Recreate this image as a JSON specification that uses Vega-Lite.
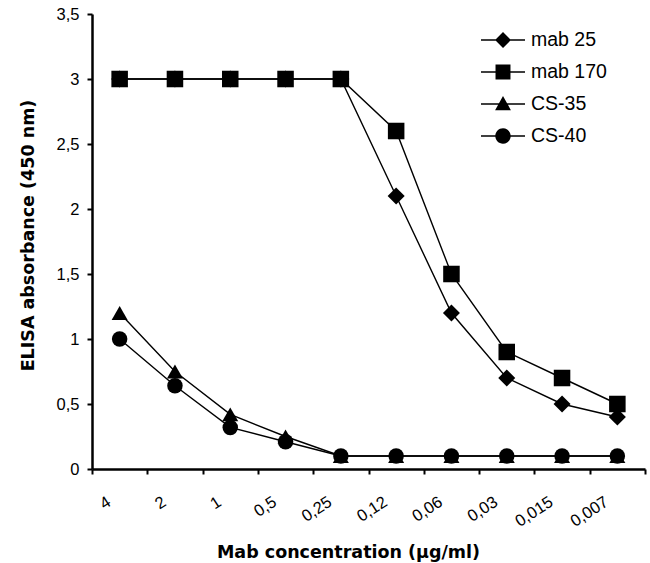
{
  "$schema": "https://vega.github.io/schema/vega-lite/v6.json",
  "width": 553,
  "height": 455,
  "autosize": {"type": "none"},
  "padding": {"left": 92, "top": 14, "right": 5, "bottom": 94},
  "background": "white",
  "config": {
    "view": {"stroke": null},
    "axis": {"grid": false, "domainColor": "black", "tickColor": "black", "labelColor": "black", "titleColor": "black"}
  },
  "data": {
    "values": [
      {"series": "mab 25", "conc": "4", "value": 3},
      {"series": "mab 25", "conc": "2", "value": 3},
      {"series": "mab 25", "conc": "1", "value": 3},
      {"series": "mab 25", "conc": "0,5", "value": 3},
      {"series": "mab 25", "conc": "0,25", "value": 3},
      {"series": "mab 25", "conc": "0,12", "value": 2.1},
      {"series": "mab 25", "conc": "0,06", "value": 1.2},
      {"series": "mab 25", "conc": "0,03", "value": 0.7},
      {"series": "mab 25", "conc": "0,015", "value": 0.5},
      {"series": "mab 25", "conc": "0,007", "value": 0.4},
      {"series": "mab 170", "conc": "4", "value": 3},
      {"series": "mab 170", "conc": "2", "value": 3},
      {"series": "mab 170", "conc": "1", "value": 3},
      {"series": "mab 170", "conc": "0,5", "value": 3},
      {"series": "mab 170", "conc": "0,25", "value": 3},
      {"series": "mab 170", "conc": "0,12", "value": 2.6},
      {"series": "mab 170", "conc": "0,06", "value": 1.5},
      {"series": "mab 170", "conc": "0,03", "value": 0.9},
      {"series": "mab 170", "conc": "0,015", "value": 0.7},
      {"series": "mab 170", "conc": "0,007", "value": 0.5},
      {"series": "CS-35", "conc": "4", "value": 1.2},
      {"series": "CS-35", "conc": "2", "value": 0.75},
      {"series": "CS-35", "conc": "1", "value": 0.42},
      {"series": "CS-35", "conc": "0,5", "value": 0.25},
      {"series": "CS-35", "conc": "0,25", "value": 0.1},
      {"series": "CS-35", "conc": "0,12", "value": 0.1},
      {"series": "CS-35", "conc": "0,06", "value": 0.1},
      {"series": "CS-35", "conc": "0,03", "value": 0.1},
      {"series": "CS-35", "conc": "0,015", "value": 0.1},
      {"series": "CS-35", "conc": "0,007", "value": 0.1},
      {"series": "CS-40", "conc": "4", "value": 1.0},
      {"series": "CS-40", "conc": "2", "value": 0.64},
      {"series": "CS-40", "conc": "1", "value": 0.32},
      {"series": "CS-40", "conc": "0,5", "value": 0.21},
      {"series": "CS-40", "conc": "0,25", "value": 0.1},
      {"series": "CS-40", "conc": "0,12", "value": 0.1},
      {"series": "CS-40", "conc": "0,06", "value": 0.1},
      {"series": "CS-40", "conc": "0,03", "value": 0.1},
      {"series": "CS-40", "conc": "0,015", "value": 0.1},
      {"series": "CS-40", "conc": "0,007", "value": 0.1}
    ]
  },
  "encoding": {
    "x": {
      "field": "conc",
      "type": "ordinal",
      "sort": null,
      "scale": {"paddingInner": 0, "paddingOuter": 0},
      "axis": {
        "title": "Mab concentration (µg/ml)",
        "titleFont": "DejaVu Sans",
        "titleFontWeight": "bold",
        "titleFontSize": 17.5,
        "titleX": 256,
        "titleY": 83,
        "titleBaseline": "middle",
        "titleAlign": "center",
        "labelFont": "Liberation Sans",
        "labelFontSize": 16.5,
        "labelAngle": -33,
        "labelAlign": "right",
        "labelBaseline": "middle",
        "labelOffset": -11,
        "labelPadding": 26,
        "tickBand": "extent",
        "tickSize": 5,
        "tickWidth": 2,
        "domainWidth": 2.5
      }
    },
    "y": {
      "field": "value",
      "type": "quantitative",
      "scale": {"domain": [0, 3.5], "nice": false},
      "axis": {
        "title": "ELISA absorbance (450 nm)",
        "titleFont": "DejaVu Sans",
        "titleFontWeight": "bold",
        "titleFontSize": 17.5,
        "titleX": -64,
        "titleY": 221,
        "titleBaseline": "middle",
        "titleAlign": "center",
        "values": [0, 0.5, 1, 1.5, 2, 2.5, 3, 3.5],
        "labelExpr": "replace(toString(datum.value), '.', ',')",
        "labelFont": "Liberation Sans",
        "labelFontSize": 16.5,
        "labelPadding": 8,
        "tickSize": 5,
        "tickWidth": 2,
        "domainWidth": 2.5
      }
    }
  },
  "layer": [
    {
      "mark": {"type": "line", "color": "black", "strokeWidth": 1.4},
      "encoding": {"detail": {"field": "series"}}
    },
    {
      "mark": {"type": "point", "filled": true, "color": "black", "opacity": 1},
      "encoding": {
        "shape": {
          "field": "series",
          "type": "nominal",
          "scale": {"domain": ["mab 25", "mab 170", "CS-35", "CS-40"], "range": ["diamond", "square", "triangle-up", "circle"]},
          "legend": null
        },
        "size": {
          "field": "series",
          "type": "nominal",
          "scale": {"domain": ["mab 25", "mab 170", "CS-35", "CS-40"], "range": [290, 240, 270, 240]},
          "legend": null
        }
      }
    },
    {
      "mark": {"type": "point", "filled": true, "color": "black", "opacity": 0, "size": 1936},
      "encoding": {
        "shape": {
          "field": "series",
          "type": "nominal",
          "scale": {
            "domain": ["mab 25", "mab 170", "CS-35", "CS-40"],
            "range": [
              "M-1,-0.03H1V0.03H-1Z M0,-0.36L0.36,0L0,0.36L-0.36,0Z",
              "M-1,-0.03H1V0.03H-1Z M-0.34,-0.34H0.34V0.34H-0.34Z",
              "M-1,-0.03H1V0.03H-1Z M0,-0.36L0.36,0.28H-0.36Z",
              "M-1,-0.03H1V0.03H-1Z M-0.35,0A0.35,0.35 0 1,1 0.35,0A0.35,0.35 0 1,1 -0.35,0Z"
            ]
          },
          "legend": {
            "title": null,
            "orient": "none",
            "legendX": 389,
            "legendY": 4,
            "labelFont": "Liberation Sans",
            "labelFontSize": 19.5,
            "labelColor": "black",
            "labelOffset": 6,
            "symbolSize": 1936,
            "symbolFillColor": "black",
            "symbolStrokeColor": "black",
            "symbolStrokeWidth": 0,
            "symbolOpacity": 1,
            "rowPadding": -10
          }
        }
      }
    }
  ],
  "resolve": {"scale": {"shape": "independent", "size": "independent"}}
}
